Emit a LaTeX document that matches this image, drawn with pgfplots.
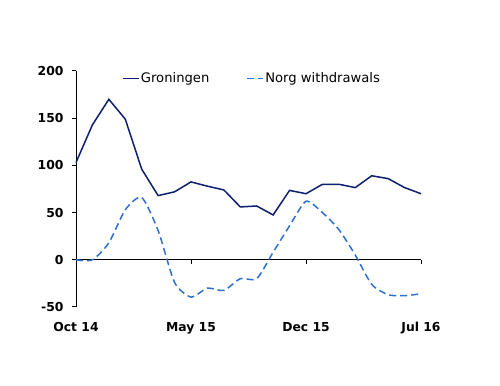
\documentclass[border=0pt]{standalone}
\usepackage{pgfplots}
\pgfplotsset{compat=1.18}
\usepackage{fontspec}
\setmainfont{DejaVu Sans}
\definecolor{navy}{RGB}{13,31,110}
\definecolor{lblue}{RGB}{46,112,205}
\begin{document}
\begin{tikzpicture}
\path[use as bounding box] (0,0) rectangle (500bp,386bp);
\begin{axis}[
  at={(76bp,79bp)}, anchor=south west,
  scale only axis, width=345bp, height=236bp,
  xmin=0, xmax=21, ymin=-50, ymax=200,
  axis y line=left, axis x line=middle,
  hide obscured x ticks=false,
  axis line style={-, black, line width=1bp},
  clip=false,
  xtick={0,7,14,21},
  xticklabels={Oct 14,May 15,Dec 15,Jul 16},
  ytick={-50,0,50,100,150,200},
  yticklabels={-50,0,50,100,150,200},
  tick align=outside, major tick length=4bp,
  tick style={black, line width=1bp},
  ticklabel style={font=\bfseries\fontsize{12.4}{14}\selectfont, text=black},
  xticklabel style={anchor=north, yshift=-55bp},
  yticklabel style={anchor=east, xshift=-5bp},
  legend style={draw=none, fill=none, at={(0.1325,0.969)}, anchor=west,
    inner sep=0pt, legend columns=2,
    font=\fontsize{13.2}{15}\selectfont,
    nodes={inner sep=0pt},
    /tikz/every odd column/.append style={column sep=1.5bp},
    /tikz/every even column/.append style={column sep=37bp}},
  legend image code/.code={\draw[#1] (0bp,0bp) -- (16bp,0bp);},
]
\addplot[navy, line width=1.5bp] coordinates {
(0,103) (1,143) (2,170) (3,149) (4,96) (5,68) (6,72) (7,82.5) (8,78) (9,74)
(10,56) (11,57) (12,47.5) (13,73.5) (14,70) (15,80) (16,80) (17,76.5) (18,89)
(19,86) (20,76.5) (21,70)};
\addlegendentry{Groningen}
\addplot[lblue, line width=1.5bp, dash pattern=on 7bp off 4bp, smooth, tension=0.4] coordinates {
(0,0) (1,0) (2,18) (3,53) (4,66) (5,31) (6,-24) (7,-39.5) (8,-30) (9,-32.5)
(10,-20) (11,-20) (12,8) (13,36) (14,62) (15,50) (16,32) (17,5) (18,-26)
(19,-37) (20,-38) (21,-36)};
\addlegendentry{Norg withdrawals}
\end{axis}
\end{tikzpicture}
\end{document}
